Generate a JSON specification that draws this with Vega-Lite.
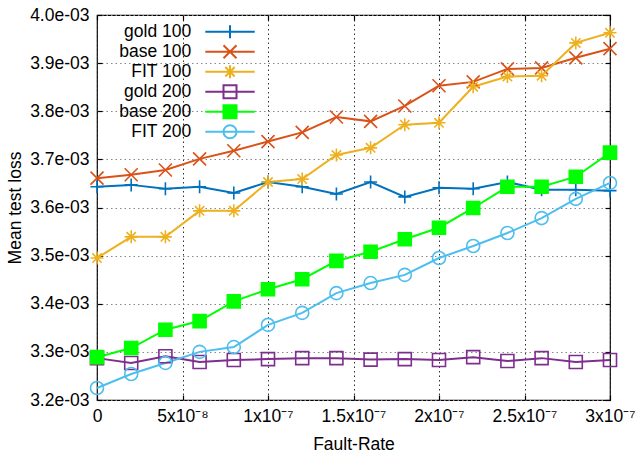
{
  "$schema": "https://vega.github.io/schema/vega-lite/v6.json",
  "width": 513,
  "height": 385,
  "autosize": {"type": "none"},
  "padding": {"left": 97, "top": 15, "right": 27, "bottom": 53},
  "background": "white",
  "config": {
    "font": "Liberation Sans",
    "view": {"stroke": "black", "strokeWidth": 1.2},
    "axis": {
      "labelFont": "Liberation Sans", "labelFontSize": 17.5, "labelColor": "black",
      "titleFont": "Liberation Sans", "titleFontSize": 17.5, "titleFontWeight": "normal", "titleColor": "black",
      "grid": true, "gridDash": [1.5, 3], "gridWidth": 1,
      "ticks": true, "tickSize": -5, "tickColor": "black", "tickWidth": 1.2, "domain": false
    },
    "axisX": {"gridColor": "#333333"},
    "axisY": {"gridColor": "#888888"}
  },
  "resolve": {"axis": {"x": "independent", "y": "independent"}},
  "data": {"values": [
    {"x": 0, "loss": 0.003643, "series": "gold 100"},
    {"x": 2e-8, "loss": 0.003647, "series": "gold 100"},
    {"x": 4e-8, "loss": 0.003639, "series": "gold 100"},
    {"x": 6e-8, "loss": 0.003643, "series": "gold 100"},
    {"x": 8e-8, "loss": 0.003630, "series": "gold 100"},
    {"x": 1e-7, "loss": 0.003653, "series": "gold 100"},
    {"x": 1.2e-7, "loss": 0.003643, "series": "gold 100"},
    {"x": 1.4e-7, "loss": 0.003628, "series": "gold 100"},
    {"x": 1.6e-7, "loss": 0.003653, "series": "gold 100"},
    {"x": 1.8e-7, "loss": 0.003622, "series": "gold 100"},
    {"x": 2e-7, "loss": 0.003641, "series": "gold 100"},
    {"x": 2.2e-7, "loss": 0.003639, "series": "gold 100"},
    {"x": 2.4e-7, "loss": 0.003653, "series": "gold 100"},
    {"x": 2.6e-7, "loss": 0.003637, "series": "gold 100"},
    {"x": 2.8e-7, "loss": 0.003637, "series": "gold 100"},
    {"x": 3e-7, "loss": 0.003635, "series": "gold 100"},
    {"x": 0, "loss": 0.003661, "series": "base 100"},
    {"x": 2e-8, "loss": 0.003668, "series": "base 100"},
    {"x": 4e-8, "loss": 0.003678, "series": "base 100"},
    {"x": 6e-8, "loss": 0.003701, "series": "base 100"},
    {"x": 8e-8, "loss": 0.003718, "series": "base 100"},
    {"x": 1e-7, "loss": 0.003737, "series": "base 100"},
    {"x": 1.2e-7, "loss": 0.003756, "series": "base 100"},
    {"x": 1.4e-7, "loss": 0.003788, "series": "base 100"},
    {"x": 1.6e-7, "loss": 0.003779, "series": "base 100"},
    {"x": 1.8e-7, "loss": 0.003811, "series": "base 100"},
    {"x": 2e-7, "loss": 0.003853, "series": "base 100"},
    {"x": 2.2e-7, "loss": 0.003861, "series": "base 100"},
    {"x": 2.4e-7, "loss": 0.003888, "series": "base 100"},
    {"x": 2.6e-7, "loss": 0.003890, "series": "base 100"},
    {"x": 2.8e-7, "loss": 0.003911, "series": "base 100"},
    {"x": 3e-7, "loss": 0.003930, "series": "base 100"},
    {"x": 0, "loss": 0.003495, "series": "FIT 100"},
    {"x": 2e-8, "loss": 0.003539, "series": "FIT 100"},
    {"x": 4e-8, "loss": 0.003539, "series": "FIT 100"},
    {"x": 6e-8, "loss": 0.003593, "series": "FIT 100"},
    {"x": 8e-8, "loss": 0.003593, "series": "FIT 100"},
    {"x": 1e-7, "loss": 0.003653, "series": "FIT 100"},
    {"x": 1.2e-7, "loss": 0.003659, "series": "FIT 100"},
    {"x": 1.4e-7, "loss": 0.003709, "series": "FIT 100"},
    {"x": 1.6e-7, "loss": 0.003724, "series": "FIT 100"},
    {"x": 1.8e-7, "loss": 0.003772, "series": "FIT 100"},
    {"x": 2e-7, "loss": 0.003776, "series": "FIT 100"},
    {"x": 2.2e-7, "loss": 0.003851, "series": "FIT 100"},
    {"x": 2.4e-7, "loss": 0.003872, "series": "FIT 100"},
    {"x": 2.6e-7, "loss": 0.003874, "series": "FIT 100"},
    {"x": 2.8e-7, "loss": 0.003942, "series": "FIT 100"},
    {"x": 3e-7, "loss": 0.003963, "series": "FIT 100"},
    {"x": 0, "loss": 0.003287, "series": "gold 200"},
    {"x": 2e-8, "loss": 0.003277, "series": "gold 200"},
    {"x": 4e-8, "loss": 0.003291, "series": "gold 200"},
    {"x": 6e-8, "loss": 0.003279, "series": "gold 200"},
    {"x": 8e-8, "loss": 0.003283, "series": "gold 200"},
    {"x": 1e-7, "loss": 0.003285, "series": "gold 200"},
    {"x": 1.2e-7, "loss": 0.003287, "series": "gold 200"},
    {"x": 1.4e-7, "loss": 0.003287, "series": "gold 200"},
    {"x": 1.6e-7, "loss": 0.003284, "series": "gold 200"},
    {"x": 1.8e-7, "loss": 0.003285, "series": "gold 200"},
    {"x": 2e-7, "loss": 0.003283, "series": "gold 200"},
    {"x": 2.2e-7, "loss": 0.003289, "series": "gold 200"},
    {"x": 2.4e-7, "loss": 0.003281, "series": "gold 200"},
    {"x": 2.6e-7, "loss": 0.003287, "series": "gold 200"},
    {"x": 2.8e-7, "loss": 0.003279, "series": "gold 200"},
    {"x": 3e-7, "loss": 0.003283, "series": "gold 200"},
    {"x": 0, "loss": 0.003289, "series": "base 200"},
    {"x": 2e-8, "loss": 0.003308, "series": "base 200"},
    {"x": 4e-8, "loss": 0.003346, "series": "base 200"},
    {"x": 6e-8, "loss": 0.003364, "series": "base 200"},
    {"x": 8e-8, "loss": 0.003405, "series": "base 200"},
    {"x": 1e-7, "loss": 0.003430, "series": "base 200"},
    {"x": 1.2e-7, "loss": 0.003451, "series": "base 200"},
    {"x": 1.4e-7, "loss": 0.003489, "series": "base 200"},
    {"x": 1.6e-7, "loss": 0.003508, "series": "base 200"},
    {"x": 1.8e-7, "loss": 0.003534, "series": "base 200"},
    {"x": 2e-7, "loss": 0.003558, "series": "base 200"},
    {"x": 2.2e-7, "loss": 0.003599, "series": "base 200"},
    {"x": 2.4e-7, "loss": 0.003643, "series": "base 200"},
    {"x": 2.6e-7, "loss": 0.003643, "series": "base 200"},
    {"x": 2.8e-7, "loss": 0.003664, "series": "base 200"},
    {"x": 3e-7, "loss": 0.003714, "series": "base 200"},
    {"x": 0, "loss": 0.003225, "series": "FIT 200"},
    {"x": 2e-8, "loss": 0.003254, "series": "FIT 200"},
    {"x": 4e-8, "loss": 0.003277, "series": "FIT 200"},
    {"x": 6e-8, "loss": 0.003300, "series": "FIT 200"},
    {"x": 8e-8, "loss": 0.003310, "series": "FIT 200"},
    {"x": 1e-7, "loss": 0.003356, "series": "FIT 200"},
    {"x": 1.2e-7, "loss": 0.003381, "series": "FIT 200"},
    {"x": 1.4e-7, "loss": 0.003422, "series": "FIT 200"},
    {"x": 1.6e-7, "loss": 0.003443, "series": "FIT 200"},
    {"x": 1.8e-7, "loss": 0.003460, "series": "FIT 200"},
    {"x": 2e-7, "loss": 0.003495, "series": "FIT 200"},
    {"x": 2.2e-7, "loss": 0.003520, "series": "FIT 200"},
    {"x": 2.4e-7, "loss": 0.003547, "series": "FIT 200"},
    {"x": 2.6e-7, "loss": 0.003578, "series": "FIT 200"},
    {"x": 2.8e-7, "loss": 0.003618, "series": "FIT 200"},
    {"x": 3e-7, "loss": 0.003651, "series": "FIT 200"}
  ]},
  "layer": [
    {
      "mark": {"type": "line", "strokeWidth": 2},
      "encoding": {
        "x": {
          "field": "x", "type": "quantitative",
          "scale": {"domain": [0, 3e-7], "nice": false, "zero": false},
          "axis": {
            "title": "Fault-Rate",
            "values": [0, 5e-8, 1e-7, 1.5e-7, 2e-7, 2.5e-7, 3e-7],
            "labelExpr": "['0','5x10⁻⁸','1x10⁻⁷','1.5x10⁻⁷','2x10⁻⁷','2.5x10⁻⁷','3x10⁻⁷'][round(datum.value/5e-8)]",
            "labelFlush": false,
            "labelPadding": 12,
            "titlePadding": 11
          }
        },
        "y": {
          "field": "loss", "type": "quantitative",
          "scale": {"domain": [0.0032, 0.004], "nice": false, "zero": false},
          "axis": {
            "title": "Mean test loss",
            "values": [0.0032, 0.0033, 0.0034, 0.0035, 0.0036, 0.0037, 0.0038, 0.0039, 0.004],
            "labelExpr": "replace(format(datum.value, '.1e'), 'e-', 'e-0')",
            "labelPadding": 13,
            "titlePadding": 5
          }
        },
        "color": {
          "field": "series", "type": "nominal",
          "scale": {
            "domain": ["gold 100", "base 100", "FIT 100", "gold 200", "base 200", "FIT 200"],
            "range": ["#0072bd", "#d95319", "#edb120", "#7e2f8e", "#00ff00", "#4dbeee"]
          },
          "legend": {
            "title": null,
            "orient": "top-left",
            "offset": 8,
            "padding": 0,
            "labelAlign": "right",
            "labelOffset": -47.5,
            "symbolOffset": 116.25,
            "rowPadding": -5,
            "labelFont": "Liberation Sans",
            "labelFontSize": 17.5,
            "labelColor": "black",
            "symbolSize": 169,
            "symbolStrokeWidth": 2,
            "encode": {
              "symbols": {
                "update": {
                  "shape": {"signal": "datum.value === 'gold 100' ? 'M-19.2,0L-19.2,0M-3.8,0L3.8,0M0,-1L0,1' : datum.value === 'base 100' ? 'M-19.2,0L-19.2,0M-3.8,0L3.8,0M-1,-1L1,1M-1,1L1,-1' : datum.value === 'FIT 100' ? 'M-19.2,0L-19.2,0M-3.8,0L3.8,0M0,-1L0,1M-0.72,-0.72L0.72,0.72M-0.72,0.72L0.72,-0.72' : datum.value === 'FIT 200' ? 'M-19.2,0L-19.2,0M-3.8,0L3.8,0M1,0A1,1,0,1,1,-1,0A1,1,0,1,1,1,0Z' : 'M-19.2,0L-19.2,0M-3.8,0L3.8,0M-1,-1L1,-1L1,1L-1,1Z'"},
                  "fill": {"signal": "datum.value === 'base 200' ? '#00ff00' : 'transparent'"},
                  "stroke": {"signal": "scale('color', datum.value)"},
                  "strokeWidth": {"value": 2},
                  "size": {"value": 169},
                  "opacity": {"value": 1}
                }
              }
            }
          }
        }
      }
    },
    {
      "mark": {"type": "point", "filled": false, "strokeWidth": 1.6, "size": 169, "opacity": 1},
      "encoding": {
        "x": {
          "field": "x", "type": "quantitative",
          "axis": {
            "orient": "top", "title": null, "labels": false, "grid": false,
            "values": [0, 5e-8, 1e-7, 1.5e-7, 2e-7, 2.5e-7, 3e-7]
          }
        },
        "y": {
          "field": "loss", "type": "quantitative",
          "axis": {
            "orient": "right", "title": null, "labels": false, "grid": false,
            "values": [0.0032, 0.0033, 0.0034, 0.0035, 0.0036, 0.0037, 0.0038, 0.0039, 0.004]
          }
        },
        "color": {"field": "series", "type": "nominal"},
        "shape": {
          "condition": [
            {"test": "datum.series === 'gold 100'", "value": "M-1,0L1,0M0,-1L0,1"},
            {"test": "datum.series === 'base 100'", "value": "M-1,-1L1,1M-1,1L1,-1"},
            {"test": "datum.series === 'FIT 100'", "value": "M-1,0L1,0M0,-1L0,1M-0.72,-0.72L0.72,0.72M-0.72,0.72L0.72,-0.72"},
            {"test": "datum.series === 'FIT 200'", "value": "circle"}
          ],
          "value": "square"
        },
        "fill": {
          "condition": {"test": "datum.series === 'base 200'", "value": "#00ff00"},
          "value": "transparent"
        }
      }
    }
  ]
}
